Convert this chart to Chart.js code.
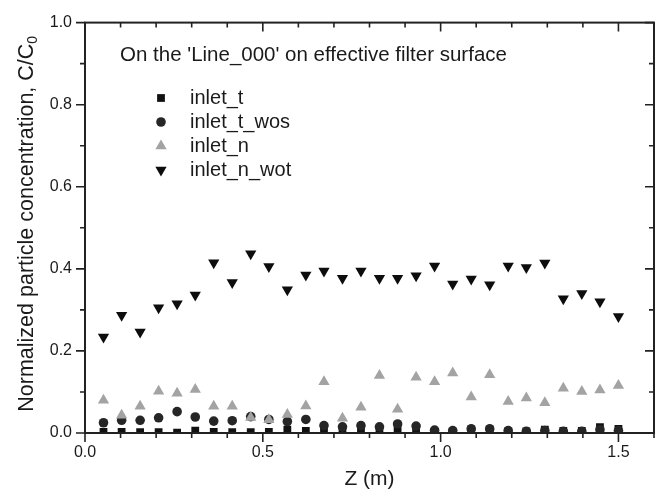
<!DOCTYPE html>
<html>
<head>
<meta charset="utf-8">
<script src="https://cdn.jsdelivr.net/npm/chart.js@4.4.0/dist/chart.umd.min.js"></script>
<style>
  html, body { margin: 0; padding: 0; background: #fff; }
</style>
</head>
<body>
<canvas id="myChart" width="671" height="499"></canvas>
<script>
// Z positions along the line (m)
const zValues = [0.052, 0.103, 0.155, 0.207, 0.259, 0.310, 0.362, 0.414, 0.466, 0.517,
                 0.569, 0.621, 0.672, 0.724, 0.776, 0.828, 0.879, 0.931, 0.983, 1.034,
                 1.086, 1.138, 1.190, 1.241, 1.293, 1.345, 1.397, 1.448, 1.500];

const inletT = [0.003, 0.003, 0.002, 0.002, 0.001, 0.006, 0.003, 0.002, 0.002, 0.003,
                0.008, 0.005, 0.007, 0.010, 0.010, 0.008, 0.010, 0.009, 0.003, 0.003,
                0.009, 0.009, 0.004, 0.004, 0.008, 0.005, 0.005, 0.014, 0.010];

const inletTWos = [0.025, 0.031, 0.031, 0.037, 0.052, 0.039, 0.029, 0.030, 0.040, 0.033,
                   0.028, 0.033, 0.018, 0.015, 0.018, 0.015, 0.022, 0.017, 0.007, 0.006,
                   0.010, 0.010, 0.006, 0.004, 0.006, 0.004, 0.004, 0.008, 0.006];

const inletN = [0.080, 0.043, 0.065, 0.102, 0.097, 0.106, 0.065, 0.065, 0.038, 0.032,
                0.045, 0.066, 0.125, 0.036, 0.063, 0.140, 0.058, 0.136, 0.125, 0.146,
                0.088, 0.142, 0.077, 0.085, 0.074, 0.109, 0.101, 0.105, 0.116];

const inletNWot = [0.234, 0.287, 0.246, 0.305, 0.315, 0.336, 0.415, 0.367, 0.437, 0.406,
                   0.349, 0.385, 0.395, 0.377, 0.395, 0.377, 0.377, 0.383, 0.407, 0.363,
                   0.375, 0.361, 0.407, 0.403, 0.414, 0.327, 0.340, 0.320, 0.284];

const seriesNames = ['inlet_t', 'inlet_t_wos', 'inlet_n', 'inlet_n_wot'];
const xTickValues = [0, 0.5, 1.0, 1.5];
const yTickValues = [0, 0.2, 0.4, 0.6, 0.8, 1.0];
const noteText = "On the 'Line_000' on effective filter surface";
const xTitle = 'Z (m)';
const yTitle = 'Normalized particle concentration, C/C';
const yTitleSub = '0';

const FONT = "'Liberation Sans', Arial, sans-serif";
Chart.defaults.font.family = FONT;
Chart.defaults.color = '#1a1a1a';

function toPoints(ys) {
    return zValues.map((z, i) => ({ x: z, y: ys[i] }));
}

function marker(ctx, ds, x, y) {
    ctx.fillStyle = ds.pointBackgroundColor;
    if (Chart.helpers && Chart.helpers.drawPoint) {
        Chart.helpers.drawPoint(ctx, {
            pointStyle: ds.pointStyle,
            radius: ds.pointRadius,
            rotation: ds.pointRotation || 0,
            borderWidth: 0
        }, x, y);
    }
}

// axis frame with minor/major ticks (out on left/bottom, in on top/right)
const frame = {
    id: 'frame',
    afterDatasetsDraw(chart) {
        const { ctx, chartArea: a, scales: { x, y } } = chart;
        ctx.save();
        ctx.strokeStyle = '#222';
        ctx.lineWidth = 2;
        ctx.strokeRect(a.left, a.top, a.right - a.left, a.bottom - a.top);
        ctx.lineWidth = 1.6;
        ctx.beginPath();
        for (let i = 0; i <= 16; i++) {
            const px = x.getPixelForValue(i / 10);
            const len = i % 5 === 0 ? 9 : 5;
            ctx.moveTo(px, a.bottom); ctx.lineTo(px, a.bottom + len);
            ctx.moveTo(px, a.top); ctx.lineTo(px, a.top + len);
        }
        for (let i = 0; i <= 10; i++) {
            const py = y.getPixelForValue(i / 10);
            const len = i % 2 === 0 ? 9 : 5;
            ctx.moveTo(a.left - len, py); ctx.lineTo(a.left, py);
            ctx.moveTo(a.right - len, py); ctx.lineTo(a.right, py);
        }
        ctx.stroke();
        ctx.restore();
    },
    afterDraw(chart) {
        const { ctx, chartArea: a } = chart;
        ctx.save();
        ctx.fillStyle = '#1a1a1a';

        // note + legend inside the plot
        ctx.font = '20.5px ' + FONT;
        ctx.textBaseline = 'middle';
        ctx.textAlign = 'left';
        ctx.fillText(noteText, 120, 55);
        ctx.font = '20px ' + FONT;
        const rows = [98, 122, 146, 170];
        chart.data.datasets.forEach((ds, i) => {
            marker(ctx, ds, 161, rows[i]);
            ctx.fillStyle = '#1a1a1a';
            ctx.fillText(ds.label, 190, rows[i]);
        });

        // x title
        ctx.font = '21px ' + FONT;
        ctx.textAlign = 'center';
        ctx.fillText(xTitle, (a.left + a.right) / 2, 479);

        // y title with subscript
        ctx.translate(33, (a.top + a.bottom) / 2 - 4);
        ctx.rotate(-Math.PI / 2);
        ctx.textBaseline = 'alphabetic';
        ctx.textAlign = 'left';
        ctx.font = '21.5px ' + FONT;
        const mw = ctx.measureText(yTitle).width;
        ctx.font = '14px ' + FONT;
        const sw = ctx.measureText(yTitleSub).width;
        const start = -(mw + sw) / 2;
        ctx.font = '21.5px ' + FONT;
        ctx.fillText(yTitle, start, 0);
        ctx.font = '14px ' + FONT;
        ctx.fillText(yTitleSub, start + mw, 4);
        ctx.restore();
    }
};

const ctx = document.getElementById('myChart');

const data = {
    datasets: [{
        label: seriesNames[0],
        data: toPoints(inletT),
        pointStyle: 'rect',
        pointRadius: 5.5,
        pointBackgroundColor: '#111',
        order: 4
    }, {
        label: seriesNames[1],
        data: toPoints(inletTWos),
        pointStyle: 'circle',
        pointRadius: 4.8,
        pointBackgroundColor: '#262626',
        order: 3
    }, {
        label: seriesNames[2],
        data: toPoints(inletN),
        pointStyle: 'triangle',
        pointRadius: 6.5,
        pointBackgroundColor: '#a3a3a3',
        order: 2
    }, {
        label: seriesNames[3],
        data: toPoints(inletNWot),
        pointStyle: 'triangle',
        pointRotation: 180,
        pointRadius: 6.5,
        pointBackgroundColor: '#0d0d0d',
        order: 1
    }]
};
data.datasets.forEach(ds => {
    ds.pointBorderWidth = 0;
    ds.pointHoverRadius = ds.pointRadius;
    ds.showLine = false;
    ds.clip = 0;
});

const myChart = new Chart(ctx, {
    type: 'scatter',
    data: data,
    options: {
        responsive: false,
        animation: false,
        layout: {
            padding: { top: 14, right: 17, bottom: 0, left: 0 }
        },
        plugins: {
            legend: { display: false },
            tooltip: { enabled: false }
        },
        scales: {
            x: {
                type: 'linear',
                min: 0,
                max: 1.6,
                grid: { display: false, drawTicks: false },
                border: { display: false },
                afterBuildTicks: s => { s.ticks = xTickValues.map(v => ({ value: v })); },
                afterFit: s => { s.height = 66; },
                ticks: {
                    padding: 10,
                    font: { size: 16 },
                    maxRotation: 0,
                    autoSkip: false,
                    callback: v => Number(v).toFixed(1)
                }
            },
            y: {
                min: 0,
                max: 1,
                grid: { display: false, drawTicks: false },
                border: { display: false },
                afterBuildTicks: s => { s.ticks = yTickValues.map(v => ({ value: v })); },
                afterFit: s => { s.width = 85; },
                ticks: {
                    padding: 13,
                    font: { size: 16 },
                    autoSkip: false,
                    callback: v => Number(v).toFixed(1)
                }
            }
        }
    },
    plugins: [frame]
});
</script>
</body>
</html>
